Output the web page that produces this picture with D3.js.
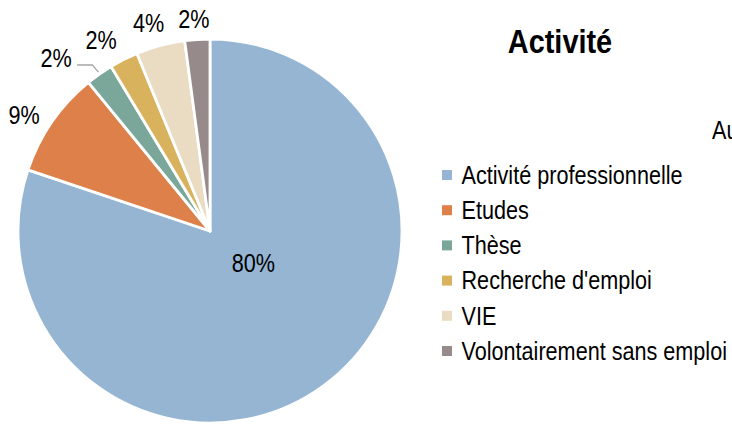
<!DOCTYPE html>
<html>
<head>
<meta charset="utf-8">
<script src="https://cdn.jsdelivr.net/npm/d3@7"></script>
<style>
  html, body { margin: 0; padding: 0; background: #fff; }
  svg text { font-family: "Liberation Sans", Arial, sans-serif; fill: #000; }
</style>
</head>
<body>
<svg id="chart" width="732" height="424"></svg>
<script>
const categories = ["Activité professionnelle", "Etudes", "Thèse", "Recherche d'emploi", "VIE", "Volontairement sans emploi"];
const values = [80.0, 8.9, 2.3, 2.4, 4.1, 2.1];
const colors = ["#95B5D3", "#DD804A", "#7BA79A", "#D9B25E", "#E9DCC2", "#968A8A"];
const title = "Activité";

const svg = d3.select("#chart");
const cx = 210, cy = 231, R = 192;
const SX = 0.865;   // horizontal condensing (narrow font look)
const fs = 25;

function ctext(parent, x, y, str, opts = {}) {
  const gg = parent.append("g").attr("transform", `translate(${x},${y}) scale(${opts.sx || SX},1)`);
  const t = gg.append("text")
    .attr("x", 0).attr("y", 0)
    .attr("text-anchor", opts.anchor || "middle")
    .attr("font-size", opts.size || fs)
    .text(str);
  if (opts.bold) t.attr("font-weight", "bold");
  return t;
}

const total = d3.sum(values);
const pie = d3.pie().sort(null).value(d => d)(values);
const arc = d3.arc().innerRadius(0).outerRadius(R);

const g = svg.append("g").attr("transform", `translate(${cx},${cy})`);
g.selectAll("path.slice").data(pie).join("path")
  .attr("class", "slice")
  .attr("d", arc)
  .attr("fill", (d, i) => colors[i])
  .attr("stroke", "#fff")
  .attr("stroke-width", 2.8)
  .attr("stroke-linejoin", "round");

const fmt = v => Math.round(v / total * 100) + "%";

// Excel "best fit" style placement: label box sits just outside the pie,
// with small angular nudges to avoid collisions.
const nudgeDeg = [0, -2.8, 0, -3.1, -1.5, -0.6];
const padR = [0, -3.5, 0, 0, 0, 0];
const gap = 7, halfH = 12;
const inner = d3.arc().innerRadius(R * 0.27).outerRadius(R * 0.27);

pie.forEach((d, i) => {
  const label = fmt(values[i]);
  let x, y;
  if (i === 0) {
    [x, y] = inner.centroid(d);
    x += 13; y -= 10;
  } else if (i === 2) {
    // shifted label with leader line
    const mid = (d.startAngle + d.endAngle) / 2;
    const ex = Math.sin(mid) * R, ey = -Math.cos(mid) * R;
    x = -cx + 56; y = -cy + 58;
    g.append("polyline")
      .attr("points", `${x + 21},${y + 7} ${ex - 7},${y + 7} ${ex - 1},${ey - 2}`)
      .attr("fill", "none").attr("stroke", "#A6A6A6").attr("stroke-width", 1.3);
  } else {
    const a = (d.startAngle + d.endAngle) / 2 + nudgeDeg[i] * Math.PI / 180;
    const halfW = 20;
    const ext = Math.abs(Math.sin(a)) * halfW + Math.abs(Math.cos(a)) * halfH;
    const r = R + gap + ext + padR[i];
    x = Math.sin(a) * r; y = -Math.cos(a) * r;
  }
  ctext(g, x, y + 8.8, label);
});

// title
ctext(svg, 560, 53, title, { bold: true, size: 34, sx: 0.85 });

// text clipped at the right edge, as in the reference
ctext(svg, 712, 138.5, "Au", { anchor: "start" });

// legend
const legend = svg.append("g").attr("transform", "translate(442,175)");
const row = legend.selectAll("g").data(categories).join("g")
  .attr("transform", (d, i) => `translate(0,${i * 35.2})`);
row.append("rect").attr("x", 0).attr("y", -5).attr("width", 10).attr("height", 10)
  .attr("fill", (d, i) => colors[i]);
row.each(function (d) {
  ctext(d3.select(this), 19.5, 8.8, d, { anchor: "start" });
});
</script>
</body>
</html>
